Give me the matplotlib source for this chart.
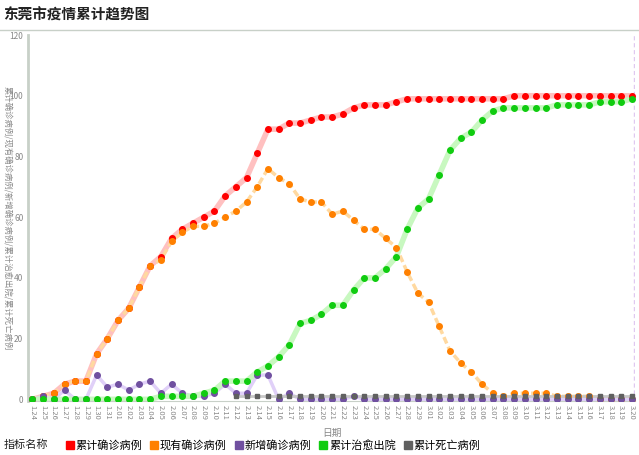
import numpy as np
import matplotlib.pyplot as plt
from matplotlib.lines import Line2D

plt.rcParams['font.family'] = ['Noto Sans CJK SC', 'DejaVu Sans']

dates = ([f"1.{d}" for d in range(24, 32)] + [f"2.{d:02d}" for d in range(1, 30)]
         + [f"3.{d:02d}" for d in range(1, 21)])

confirmed = [0, 1, 2, 5, 6, 6, 15, 20, 26, 30, 37, 44, 47, 53, 56, 58, 60, 62, 67, 70, 73, 81,
             89, 89, 91, 91, 92, 93, 93, 94, 96, 97, 97, 97, 98, 99, 99, 99, 99, 99, 99, 99, 99,
             99, 99, 100, 100, 100, 100, 100, 100, 100, 100, 100, 100, 100, 100]
current = [0, 1, 2, 5, 6, 6, 15, 20, 26, 30, 37, 44, 46, 52, 55, 57, 57, 58, 60, 62, 65, 70,
           76, 73, 71, 66, 65, 65, 61, 62, 59, 56, 56, 53, 50, 42, 35, 32, 24, 16, 12, 9, 5,
           2, 1, 2, 2, 2, 2, 1, 1, 1, 1, 0, 0, 0, 0]
new_cases = [0, 1, 0, 3, 0, 0, 8, 4, 5, 3, 5, 6, 2, 5, 2, 1, 1, 2, 5, 2, 2, 8, 8, 0, 2, 0, 0,
             0, 0, 0, 1, 0, 0, 0, 0, 0, 0, 0, 0, 0, 0, 0, 0, 0, 0, 0, 0, 0, 0, 0, 0, 0, 0, 0,
             0, 0, 0]
cured = [0, 0, 0, 0, 0, 0, 0, 0, 0, 0, 0, 0, 1, 1, 1, 1, 2, 3, 6, 6, 6, 9, 11, 14, 18, 25, 26,
         28, 31, 31, 36, 40, 40, 43, 47, 56, 63, 66, 74, 82, 86, 88, 92, 95, 96, 96, 96, 96,
         96, 97, 97, 97, 97, 98, 98, 98, 99]
deaths = [np.nan] * 19 + [1] * 38

x = np.arange(len(dates))

fig = plt.figure(figsize=(6.39, 4.55), dpi=100)
ax = fig.add_axes([0.044, 0.119, 0.95, 0.804])

series = [
    ("累计确诊病例", confirmed, "#ff0000", "#ffc0c0", "-", "o", 4.0),
    ("现有确诊病例", current, "#ff8000", "#ffd9a0", (0, (2, 1)), "o", 2.5),
    ("新增确诊病例", new_cases, "#7050a0", "#e0d0f8", "-", "o", 2.5),
    ("累计治愈出院", cured, "#10cc10", "#c8f8c0", "-", "o", 4.0),
    ("累计死亡病例", deaths, "#606060", "#c8c8c8", "-", "s", 2.0),
]
handles = []
for name, vals, mc, lc, ls, mk, lw in series:
    ax.plot(x, vals, color=lc, lw=lw, ls=ls, zorder=2)
    ax.plot(x, vals, ls="none", marker=mk, ms=4.0 if mk == "o" else 3.2, color=mc, zorder=3)
    handles.append(Line2D([], [], ls="none", marker="s", ms=6, color=mc, label=name))

ax.set_xlim(-0.4, 56.3)
ax.set_ylim(-0.5, 120)
ax.set_yticks(range(0, 121, 20))
ax.set_xticks(x)
ax.set_xticklabels(dates, rotation=-90, fontsize=5.5, color="#888888")
ax.tick_params(axis="y", labelsize=6, colors="#888888", length=0)
ax.tick_params(axis="x", length=0, pad=3)
for s in ["top", "right"]:
    ax.spines[s].set_visible(False)
ax.spines["left"].set_color("#c8d0c8")
ax.spines["left"].set_linewidth(2)
ax.spines["bottom"].set_color("#c8d0c8")
ax.axvline(56.2, color="#e0c8f0", ls=(0, (3, 2)), lw=1)

ax.set_xlabel("日期", fontsize=7, color="#888888", labelpad=2)
ax.xaxis.set_label_coords(0.5, -0.075)
ax.set_ylabel("累计确诊病例/现有确诊病例/新增确诊病例/累计治愈出院/累计死亡病例",
              fontsize=6, color="#888888", rotation=-90, va="center")
ax.yaxis.set_label_coords(-0.033, 0.5)

fig.text(0.005, 0.968, "东莞市疫情累计趋势图", fontsize=10.5, fontweight="bold", color="#222222",
         va="center")
fig.add_artist(Line2D([0, 1], [0.934, 0.934], color="#c8d0c8", lw=1))

fig.text(0.005, 0.022, "指标名称", fontsize=8, color="#222222", va="center")
fig.legend(handles=handles, loc="center left", bbox_to_anchor=(0.085, 0.022), ncol=5,
           frameon=False, fontsize=8, handletextpad=0.0, columnspacing=0.6,
           handlelength=1.0)

fig.savefig("out.png", dpi=100)
